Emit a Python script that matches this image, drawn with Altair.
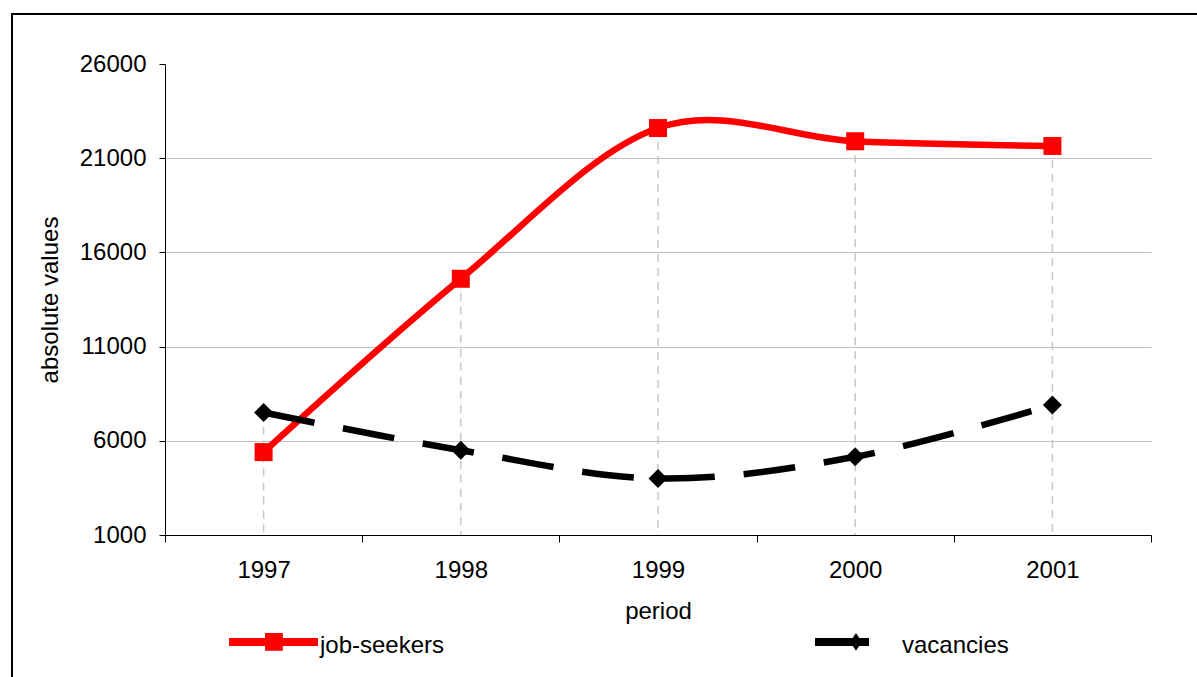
import altair as alt
import pandas as pd

# ---- data -------------------------------------------------------------
years = [1997, 1998, 1999, 2000, 2001]
job_seekers = [5400, 14600, 22600, 21900, 21650]
vacancies = [7500, 5500, 4000, 5150, 7900]

series_names = ["job-seekers", "vacancies"]
series_colors = ["#ff0000", "#000000"]

y_ticks = [1000, 6000, 11000, 16000, 21000, 26000]
# half-year positions carry the category separator ticks, whole years carry labels
x_ticks = [1996.5, 1997, 1997.5, 1998, 1998.5, 1999, 1999.5,
           2000, 2000.5, 2001, 2001.5]

FONT = "Liberation Sans"
W, H = 986, 471

jobs_df = pd.DataFrame({"year": years, "value": job_seekers})
vac_df = pd.DataFrame({"year": years, "value": vacancies})
drop_df = pd.DataFrame({
    "year": years,
    "top": [max(a, b) for a, b in zip(job_seekers, vacancies)],
    "base": y_ticks[0],
})
legend_df = pd.DataFrame({"series": series_names})
frame_df = pd.DataFrame({"k": [0]})

# ---- scales & axes ----------------------------------------------------
x_scale = alt.Scale(domain=[x_ticks[0], x_ticks[-1]], nice=False, zero=False)
y_scale = alt.Scale(domain=[y_ticks[0], y_ticks[-1]], nice=False, zero=False)

x_axis = alt.Axis(
    values=x_ticks,
    title="period",
    labelExpr="datum.value % 1 === 0 ? format(datum.value, 'd') : ''",
    labelOverlap=False,
    labelFlush=False,
    grid=False,
    tickSize=7,
    tickColor="#000000",
    tickOpacity={"condition": {"test": "datum.value % 1 === 0", "value": 0}, "value": 1},
    domainColor="#000000",
    labelBaseline="middle",
    labelPadding=28,
    titleX=W / 2,
    titleY=76,
    titleBaseline="middle",
    titleAlign="center",
)

y_axis = alt.Axis(
    values=y_ticks,
    title="absolute values",
    format="d",
    grid=True,
    gridColor="#c0c0c0",
    gridWidth=1,
    gridOpacity={"condition": {"test": f"datum.value === {y_ticks[-1]}", "value": 0}, "value": 1},
    tickSize=6,
    tickColor="#000000",
    domainColor="#000000",
    labelPadding=13,
    labelBaseline="middle",
    titleX=-115,
    titleY=H / 2,
    titleAngle=-90,
    titleBaseline="middle",
    titleAlign="center",
)

X = alt.X("year:Q", scale=x_scale, axis=x_axis)
Y = alt.Y("value:Q", scale=y_scale, axis=y_axis)

# ---- legend symbols: a bar of the series line with its marker on it ----
js_symbol = "M-1,-0.175H1V0.005H-1Z M-0.19,-0.285H0.21V0.115H-0.19Z"
vac_symbol = ("M-0.91,-0.175H0.303V0.005H-0.91Z "
              "M0.011,-0.285L0.146,-0.085L0.011,0.115L-0.124,-0.085Z")

legend = alt.Legend(
    title=None,
    orient="none",
    legendX=64,
    legendY=537,
    direction="horizontal",
    symbolSize=7921,
    symbolStrokeWidth=0,
    symbolOpacity=1,
    labelFont=FONT,
    labelFontSize=24,
    labelColor="#000000",
    labelOffset=2,
    labelLimit=400,
    columnPadding=366,
    padding=0,
)

# ---- layers -----------------------------------------------------------
frame = alt.Chart(frame_df).mark_rect(
    fill="white", fillOpacity=0, stroke="#000000", strokeWidth=2
).encode(
    x=alt.value(-153), x2=alt.value(W + 60),
    y=alt.value(-50), y2=alt.value(H + 150),
)

drops = alt.Chart(drop_df).mark_rule(
    color="#c8c8c8", strokeWidth=1.5, strokeDash=[8, 6]
).encode(
    x=alt.X("year:Q", scale=x_scale, axis=x_axis),
    y=alt.Y("top:Q", scale=y_scale, axis=y_axis),
    y2="base:Q",
)

jobs_line = alt.Chart(jobs_df).mark_line(
    color="#ff0000", strokeWidth=6.5, interpolate="cardinal"
).encode(x=X, y=Y)

jobs_pts = alt.Chart(jobs_df).mark_point(
    shape="square", filled=True, size=324, color="#ff0000", opacity=1
).encode(x=X, y=Y)

vac_line = alt.Chart(vac_df).mark_line(
    color="#000000", strokeWidth=6.5, strokeDash=[52, 29],
    strokeCap="butt", interpolate="cardinal"
).encode(x=X, y=Y)

vac_pts = alt.Chart(vac_df).mark_point(
    shape="diamond", filled=True, size=361, color="#000000", opacity=1
).encode(x=X, y=Y)

legend_layer = alt.Chart(legend_df).transform_filter("false").mark_point(
    filled=True, opacity=1
).encode(
    shape=alt.Shape("series:N",
                    scale=alt.Scale(domain=series_names, range=[js_symbol, vac_symbol]),
                    legend=legend),
    fill=alt.Fill("series:N",
                  scale=alt.Scale(domain=series_names, range=series_colors),
                  legend=legend),
)

chart = alt.layer(
    frame, drops, jobs_line, jobs_pts, vac_line, vac_pts, legend_layer
).properties(
    width=W,
    height=H,
    autosize=alt.AutoSizeParams(type="none"),
    padding={"left": 165, "top": 64, "right": 1197 - 165 - W, "bottom": 677 - 64 - H},
    background="white",
).configure_axis(
    labelFont=FONT,
    labelFontSize=24,
    labelColor="#000000",
    titleFont=FONT,
    titleFontSize=24,
    titleColor="#000000",
    titleFontWeight="normal",
).configure_view(stroke=None)

chart.save("out.html", embed_options={"renderer": "svg", "actions": False})
